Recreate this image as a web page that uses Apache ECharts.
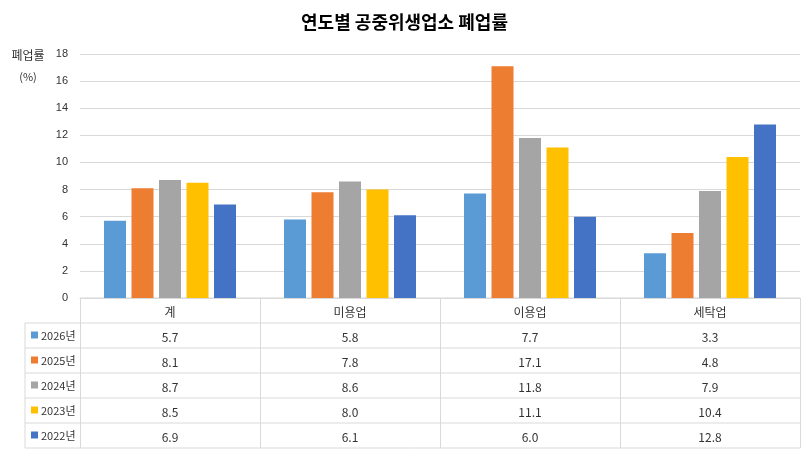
<!DOCTYPE html>
<html><head><meta charset="utf-8">
<script src="https://cdn.jsdelivr.net/npm/echarts@6/dist/echarts.min.js"></script>
<style>html,body{margin:0;padding:0}#c{width:809px;height:456px}</style>
</head><body><div id="c"></div>
<script>
const categories = ['계','미용업','이용업','세탁업'];
const years = ['2026년','2025년','2024년','2023년','2022년'];
const v2026 = [5.7,5.8,7.7,3.3];
const v2025 = [8.1,7.8,17.1,4.8];
const v2024 = [8.7,8.6,11.8,7.9];
const v2023 = [8.5,8.0,11.1,10.4];
const v2022 = [6.9,6.1,6.0,12.8];
const yTicks = {min:0,max:18,interval:2};
const colors = ['#5B9BD5','#ED7D31','#A5A5A5','#FFC000','#4472C4'];
const values = [v2026,v2025,v2024,v2023,v2022];

const W=809,H=456, gL=80, gR=9, gT=54, gB=158, rowH=25, tableLeft=25;
const baseY=H-gB, tableBottom=baseY+rowH*6;
const lineC='#d9d9d9';
const font='"Noto Sans CJK KR", sans-serif';

const xAxes=[{type:'category',data:categories,position:'bottom',
  axisLine:{lineStyle:{color:lineC}},
  axisTick:{show:true,interval:0,length:rowH*6,lineStyle:{color:lineC}},
  axisLabel:{color:'#333',fontSize:12,fontFamily:font,margin:8}}];
values.forEach((arr,i)=>{
  xAxes.push({type:'category',data:arr.map(v=>v.toFixed(1)),position:'bottom',offset:rowH*(i+1),
    axisLine:{show:false},axisTick:{show:false},
    axisLabel:{color:'#333',fontSize:12,fontFamily:font,margin:8}});
});

const graphic=[];
for(let i=0;i<=6;i++){
  const y=baseY+rowH*i;
  graphic.push({type:'line',shape:{x1:i===0?gL:tableLeft,y1:y,x2:W-gR,y2:y},style:{stroke:lineC,lineWidth:1}});
}
graphic.push({type:'line',shape:{x1:tableLeft,y1:baseY+rowH,x2:tableLeft,y2:tableBottom},style:{stroke:lineC}});
years.forEach((yr,i)=>{
  const cy=baseY+rowH*(i+1)+rowH/2;
  graphic.push({type:'rect',shape:{x:tableLeft+6,y:cy-4,width:7,height:7},style:{fill:colors[i]}});
  graphic.push({type:'text',x:tableLeft+16,y:cy,style:{text:yr,fontSize:11,fontFamily:font,fill:'#333',verticalAlign:'middle'}});
});
graphic.push({type:'text',x:28,y:gT-5,style:{text:'폐업률',fontSize:12,fontFamily:font,fill:'#333',align:'center'}});
graphic.push({type:'text',x:28,y:gT+17,style:{text:'(%)',fontSize:11,fontFamily:font,fill:'#333',align:'center'}});

const chart=echarts.init(document.getElementById('c'));
chart.setOption({
  animation:false,
  title:{text:'연도별 공중위생업소 폐업률',left:'center',top:8,textStyle:{fontSize:18,fontWeight:'bold',color:'#000',fontFamily:font}},
  grid:{left:gL,right:gR,top:gT,bottom:gB},
  xAxis:xAxes,
  yAxis:{type:'value',min:yTicks.min,max:yTicks.max,interval:yTicks.interval,
    axisLine:{show:false},axisTick:{show:false},
    axisLabel:{color:'#333',fontSize:11,margin:12},
    splitLine:{lineStyle:{color:lineC}}},
  series:values.map((arr,i)=>({type:'bar',name:years[i],data:arr,barWidth:22,barGap:'25%',
    itemStyle:{color:colors[i]},xAxisIndex:0})),
  graphic:graphic
});
</script></body></html>
